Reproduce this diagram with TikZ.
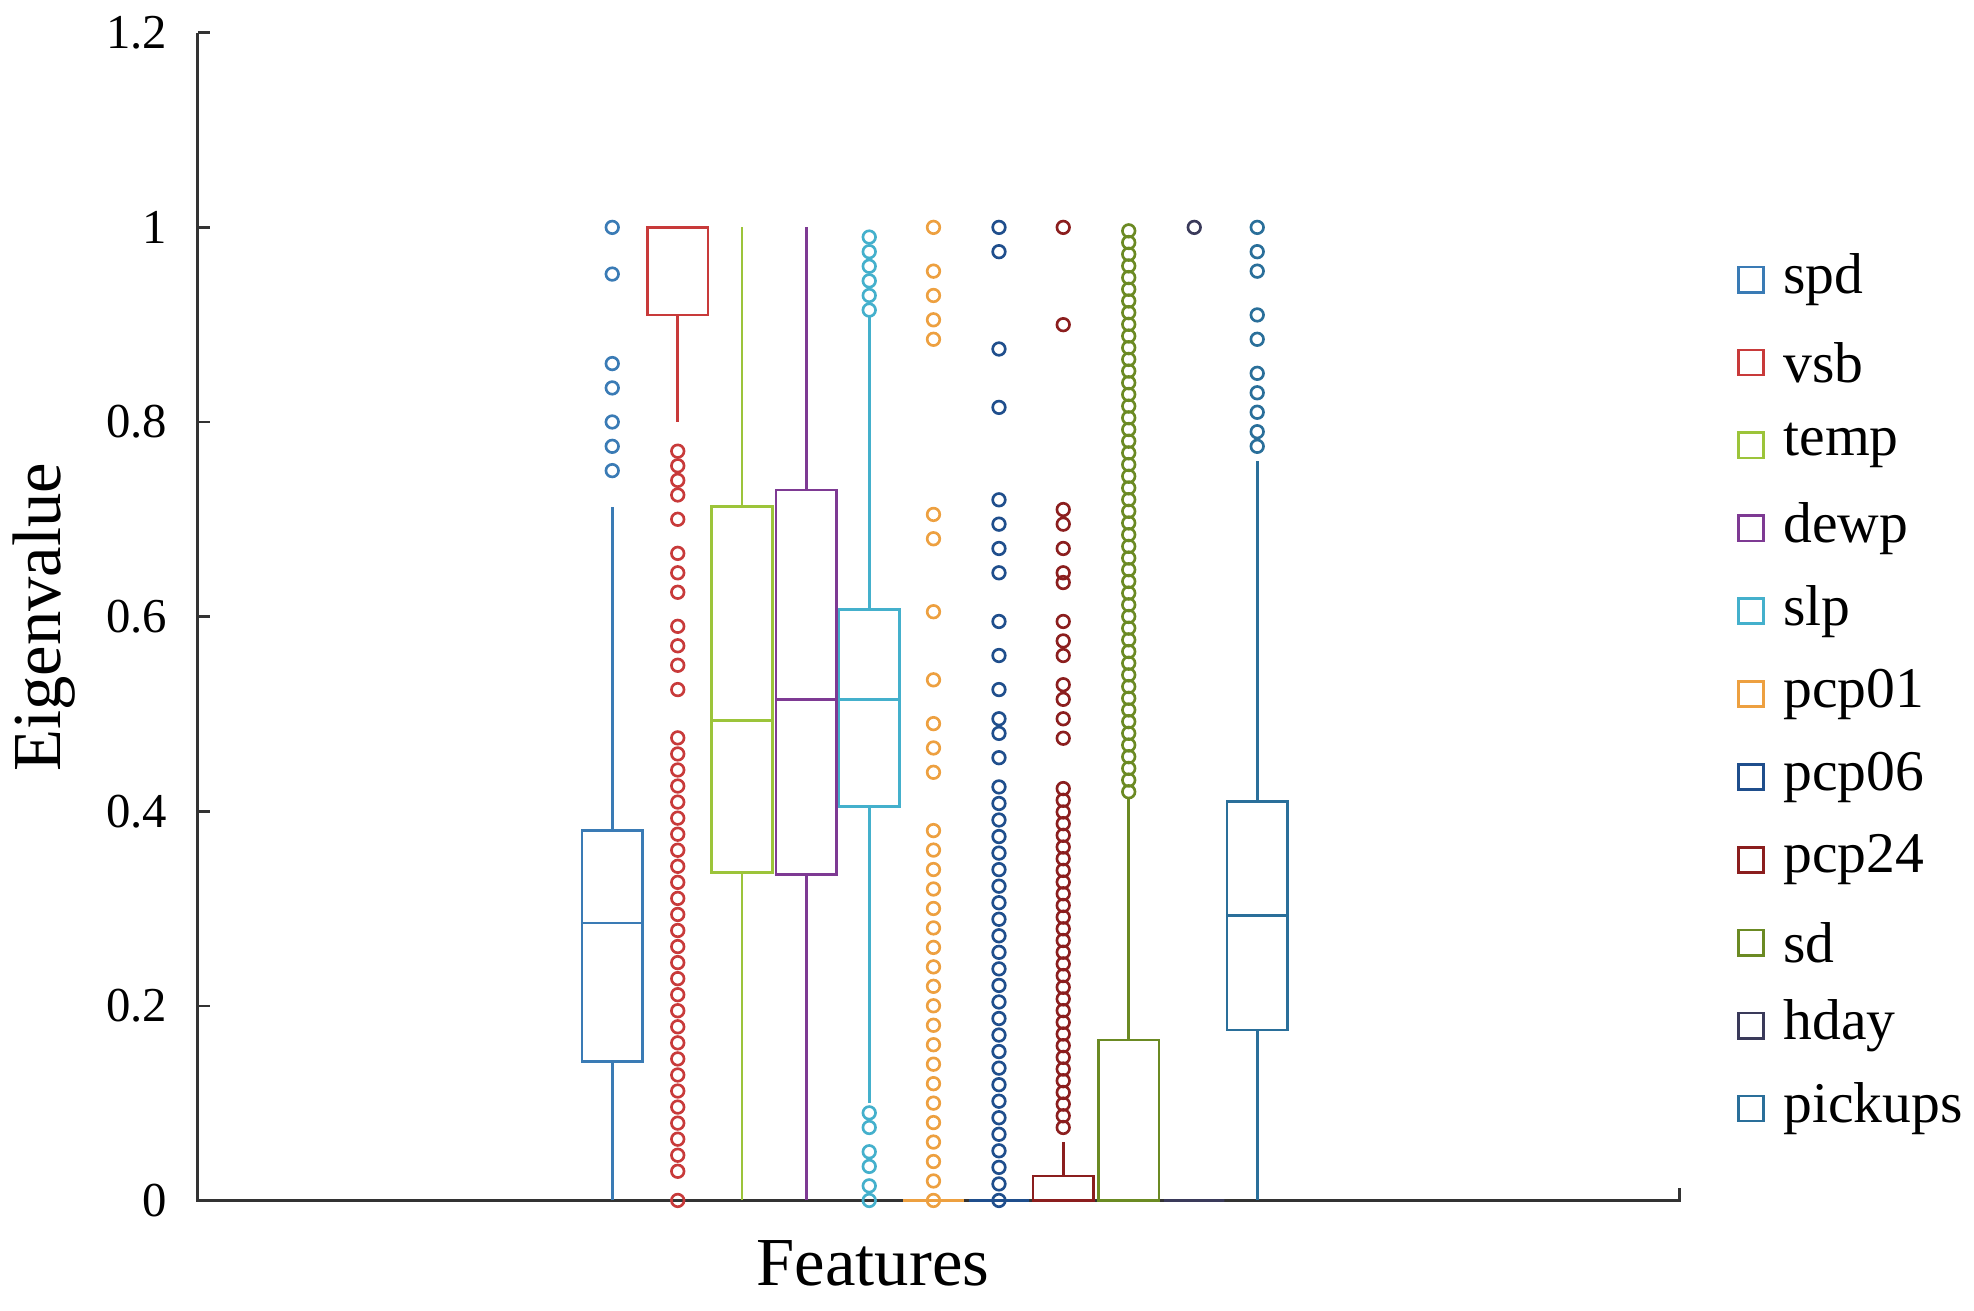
\documentclass[tikz,border=0pt]{standalone}
\usepackage{fontspec}
\setmainfont{Liberation Serif}
\usetikzlibrary{positioning}
\definecolor{cspd}{HTML}{3A7BB5}
\definecolor{cvsb}{HTML}{C83A3A}
\definecolor{ctemp}{HTML}{9CC43A}
\definecolor{cdewp}{HTML}{7E3A93}
\definecolor{cslp}{HTML}{44B0CC}
\definecolor{cpcpa}{HTML}{EDA040}
\definecolor{cpcpb}{HTML}{1F4E8C}
\definecolor{cpcpc}{HTML}{8B1E1E}
\definecolor{csd}{HTML}{6B8A23}
\definecolor{chday}{HTML}{3A3A5A}
\definecolor{cpick}{HTML}{2A6F9A}
\tikzstyle{axis} = [draw, line width=0.6pt, black!80]
\tikzstyle{tick} = [font=\fontsize{11}{13}\selectfont, anchor=east]
\tikzstyle{feat} = [line width=0.6pt]
\tikzstyle{leg} = [rectangle, draw, line width=0.6pt, minimum size=0.2cm, inner sep=0pt]
\tikzstyle{legtext} = [font=\fontsize{13}{15}\selectfont, anchor=west, inner sep=0pt]
% box: x, colour, q1, q3, median, lower whisker, upper whisker
\newcommand\featbox[7]{%
  \draw[feat, #2] (#1-24,#3) rectangle (#1+24,#4);
  \draw[feat, #2] (#1-24,#5) -- (#1+24,#5);
  \draw[feat, #2] (#1,#6) -- (#1,#3);
  \draw[feat, #2] (#1,#4) -- (#1,#7);
}
% outliers: x, colour, values
\newcommand\outl[3]{%
  \foreach \v in {#3} \draw[feat, #2] (#1,\v) circle[radius=0.05cm];
}
\begin{document}
\begin{tikzpicture}[x=0.01cm, y=0.01cm]
\useasboundingbox (0,0) rectangle (1567,1040);
\node[rotate=90, font=\fontsize{15.5}{17}\selectfont] (ylabel) at (35,550) {Eigenvalue};
\node[font=\fontsize{15.5}{17}\selectfont] (xlabel) at (693,37) {Features};
\begin{scope}[yshift=0.87cm, y=7.72cm]
\coordinate (origin) at (157,0);
\coordinate (ytop) at (157,1.2);
\coordinate (xend) at (1333,0);
\path[axis] (ytop) -- (origin) -- (xend) -- ++(0,0.013);
\foreach \t/\l in {0/0,0.2/0.2,0.4/0.4,0.6/0.6,0.8/0.8,1/1,1.2/1.2} {
  \draw[axis] (157,\t) -- (167,\t);
  \node[tick] (tk\l) at (145,\t) {\l};
}
% spd
\featbox{486}{cspd}{0.143}{0.38}{0.285}{0}{0.713}
\outl{486}{cspd}{0.75,0.775,0.80,0.835,0.86,0.952,1.0}
% vsb
\featbox{538}{cvsb}{0.91}{1.0}{1.0}{0.80}{1.0}
\outl{538}{cvsb}{0,0.03,0.0465,...,0.49,0.525,0.55,0.57,0.59,0.625,0.645,0.665,0.70,0.725,0.74,0.755,0.77}
% temp
\featbox{589}{ctemp}{0.337}{0.713}{0.493}{0}{1}
% dewp
\featbox{640}{cdewp}{0.335}{0.73}{0.515}{0}{1}
% slp
\featbox{690}{cslp}{0.405}{0.607}{0.515}{0.10}{0.91}
\outl{690}{cslp}{0,0.015,0.035,0.05,0.075,0.09,0.915,0.93,0.945,0.96,0.975,0.99}
% pcp01
\featbox{741}{cpcpa}{0}{0}{0}{0}{0}
\outl{741}{cpcpa}{0,0.02,...,0.395,0.44,0.465,0.49,0.535,0.605,0.68,0.705,0.885,0.905,0.93,0.955,1.0}
% pcp06
\featbox{793}{cpcpb}{0}{0}{0}{0}{0}
\outl{793}{cpcpb}{0,0.017,...,0.43,0.455,0.48,0.495,0.525,0.56,0.595,0.645,0.67,0.695,0.72,0.815,0.875,0.975,1.0}
% pcp24
\featbox{844}{cpcpc}{0}{0.025}{0}{0}{0.06}
\outl{844}{cpcpc}{0.075,0.087,...,0.43,0.475,0.495,0.515,0.53,0.56,0.575,0.595,0.635,0.645,0.67,0.695,0.71,0.90,1.0}
% sd
\featbox{896}{csd}{0}{0.165}{0}{0}{0.415}
\outl{896}{csd}{0.42,0.432,...,1.0}
% hday
\featbox{948}{chday}{0}{0}{0}{0}{0}
\outl{948}{chday}{1.0}
% pickups
\featbox{998}{cpick}{0.175}{0.41}{0.293}{0}{0.76}
\outl{998}{cpick}{0.775,0.79,0.81,0.83,0.85,0.885,0.91,0.955,0.975,1.0}
\end{scope}
% legend
\foreach \n/\c [count=\i from 0] in {spd/cspd,vsb/cvsb,temp/ctemp,dewp/cdewp,slp/cslp,pcp01/cpcpa,pcp06/cpcpb,pcp24/cpcpc,sd/csd,hday/chday,pickups/cpick} {
  \node[leg, draw=\c] (key\i) at (1390,818-65.8*\i) {};
  \node[legtext, right=0.14cm of key\i] (lab\i) {\n};
}
\end{tikzpicture}
\end{document}
